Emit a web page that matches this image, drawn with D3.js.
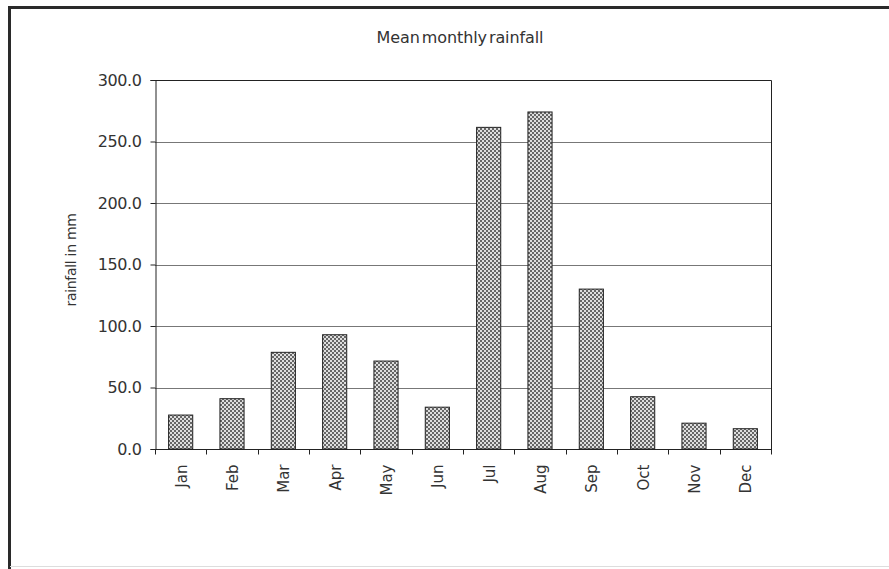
<!DOCTYPE html>
<html>
<head>
<meta charset="utf-8">
<script src="https://cdn.jsdelivr.net/npm/d3@7"></script>
<style>
  body { margin: 0; background: #fff; }
  text { font-family: "DejaVu Sans", "Liberation Sans", sans-serif; fill: #333; }
</style>
</head>
<body>
<div id="chart"></div>
<script>
// chart data
var months = ["Jan", "Feb", "Mar", "Apr", "May", "Jun", "Jul", "Aug", "Sep", "Oct", "Nov", "Dec"];
var rainfall = [27.6, 40.9, 78.6, 92.9, 71.5, 34.0, 261.5, 274.0, 130.0, 42.5, 21.0, 16.5];
var yTicks = [0, 50, 100, 150, 200, 250, 300];

var width = 889, height = 569;

// plot area (window.top is taken, so prefix these)
var plotLeft = 155, plotRight = 771, plotTop = 80, plotBottom = 449;

var svg = d3.select("#chart")
  .append("svg")
  .attr("width", width)
  .attr("height", height);

// dotted fill for the bars
var pat = svg.append("defs").append("pattern")
  .attr("id", "dots")
  .attr("width", 4)
  .attr("height", 4)
  .attr("patternUnits", "userSpaceOnUse");
pat.append("rect").attr("width", 4).attr("height", 4).attr("fill", "#dedede");
pat.append("rect").attr("x", 0).attr("y", 0).attr("width", 2).attr("height", 2).attr("fill", "#666");
pat.append("rect").attr("x", 2).attr("y", 2).attr("width", 2).attr("height", 2).attr("fill", "#666");

// outer frame
svg.append("path")
  .attr("d", "M9.5," + height + "V7.5H" + width)
  .attr("fill", "none")
  .attr("stroke", "#2a2a2a")
  .attr("stroke-width", 3);
svg.append("line")
  .attr("x1", 10).attr("x2", width)
  .attr("y1", 566.5).attr("y2", 566.5)
  .attr("stroke", "#ddd");

var x = d3.scaleBand()
  .domain(months)
  .range([plotLeft, plotRight])
  .paddingInner(0.53)
  .paddingOuter(0.265);

var y = d3.scaleLinear()
  .domain([0, 300])
  .range([plotBottom, plotTop]);

// gridlines
svg.append("g")
  .selectAll("line")
  .data(yTicks.slice(1))
  .join("line")
  .attr("x1", plotLeft).attr("x2", plotRight)
  .attr("y1", function(d) { return Math.round(y(d)) + 0.5; })
  .attr("y2", function(d) { return Math.round(y(d)) + 0.5; })
  .attr("stroke", "#777");

// bars
svg.append("g")
  .selectAll("rect")
  .data(rainfall)
  .join("rect")
  .attr("x", function(d, i) { return x(months[i]); })
  .attr("y", function(d) { return y(d); })
  .attr("width", x.bandwidth())
  .attr("height", function(d) { return plotBottom - y(d); })
  .attr("fill", "url(#dots)")
  .attr("stroke", "#222")
  .attr("stroke-width", 1);

// plot border, top and right side
svg.append("path")
  .attr("d", "M" + plotLeft + "," + (plotTop + 0.5) + "H" + (plotRight + 0.5) + "V" + plotBottom)
  .attr("fill", "none")
  .attr("stroke", "#222");

// y axis
var yAxis = svg.append("g")
  .attr("transform", "translate(" + (plotLeft + 0.5) + ",0)")
  .call(d3.axisLeft(y).tickValues(yTicks).tickSize(5).tickPadding(9).tickFormat(d3.format(".1f")));
yAxis.select(".domain").attr("stroke", "#222");
yAxis.selectAll(".tick line").attr("stroke", "#222");
yAxis.selectAll("text")
  .style("font-family", "'DejaVu Sans', sans-serif")
  .style("font-size", "16px")
  .style("letter-spacing", "-0.4px")
  .attr("fill", "#333");

// x axis: ticks between the categories
var xAxis = svg.append("g")
  .attr("transform", "translate(0," + (plotBottom + 0.5) + ")");
xAxis.append("line")
  .attr("x1", plotLeft).attr("x2", plotRight + 1)
  .attr("stroke", "#222");
var step = x.step();
xAxis.selectAll(".sep")
  .data(d3.range(months.length + 1))
  .join("line")
  .attr("class", "sep")
  .attr("x1", function(i) { return Math.round(plotLeft + i * step) + 0.5; })
  .attr("x2", function(i) { return Math.round(plotLeft + i * step) + 0.5; })
  .attr("y1", 0).attr("y2", 5)
  .attr("stroke", "#222");
xAxis.selectAll(".lbl")
  .data(months)
  .join("text")
  .attr("class", "lbl")
  .attr("transform", function(d) {
    return "translate(" + (x(d) + x.bandwidth() / 2 + 6) + ",15) rotate(-90)";
  })
  .attr("text-anchor", "end")
  .style("font-size", "15px")
  .text(function(d) { return d; });

// title
svg.append("text")
  .attr("x", 460)
  .attr("y", 43)
  .attr("text-anchor", "middle")
  .style("font-size", "16px")
  .style("letter-spacing", "-0.1px")
  .style("word-spacing", "-3px")
  .text("Mean monthly rainfall");

// y label
svg.append("text")
  .attr("transform", "translate(76,260) rotate(-90)")
  .attr("text-anchor", "middle")
  .style("font-size", "14px")
  .style("letter-spacing", "-0.3px")
  .text("rainfall in mm");
</script>
</body>
</html>
